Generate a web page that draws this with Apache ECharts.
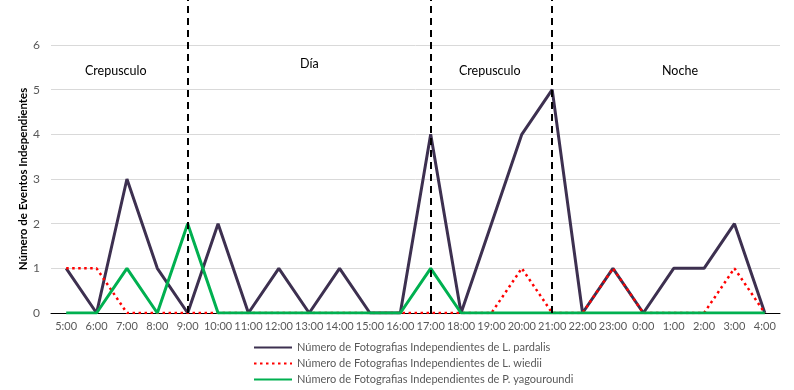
<!DOCTYPE html>
<html><head><meta charset="utf-8">
<script src="https://cdn.jsdelivr.net/npm/echarts@6/dist/echarts.min.js"></script>
<style>html,body{margin:0;padding:0;background:#fff}#c{width:794px;height:390px}</style>
</head><body><div id="c"></div>
<script>
const hours = ['5:00','6:00','7:00','8:00','9:00','10:00','11:00','12:00','13:00','14:00','15:00','16:00','17:00','18:00','19:00','20:00','21:00','22:00','23:00','0:00','1:00','2:00','3:00','4:00'];
const pardalis = [1,0,3,1,0,2,0,1,0,1,0,0,4,0,2,4,5,0,1,0,1,1,2,0];
const wiedii   = [1,1,0,0,0,0,0,0,0,0,0,0,0,0,0,1,0,0,1,0,0,0,1,0];
const yagouaroundi = [0,0,1,0,2,0,0,0,0,0,0,0,1,0,0,0,0,0,0,0,0,0,0,0];
const seriesNames = ['Número de Fotografias Independientes de L. pardalis','Número de Fotografias Independientes de L. wiedii','Número de Fotografias Independientes de P. yagouroundi'];
const dividers = ['9:00','17:00','21:00'];
const periodLabels = ['Crepusculo','Día','Crepusculo','Noche'];
const yTicks = [0,1,2,3,4,5,6];

const FONT = 'Lato';
const chart = echarts.init(document.getElementById('c'), null, {renderer:'canvas'});
chart.setOption({
  animation:false,
  textStyle:{fontFamily:FONT},
  grid:[{left:51, right:14, top:45, bottom:77}, {left:51,right:14,top:0,bottom:77}],
  xAxis:[{
    type:'category', data:hours, gridIndex:0,
    axisLine:{lineStyle:{color:'#000',width:1}},
    axisTick:{show:false},
    axisLabel:{color:'#595959',fontSize:11,margin:8,interval:0,fontFamily:FONT}
  },{
    type:'category', data:hours, gridIndex:1, show:false
  }],
  yAxis:[{
    type:'value', min:0, max:6, interval:1, gridIndex:0,
    name:'Número de Eventos Independientes', nameLocation:'middle', nameGap:22, nameMoveOverlap:false,
    nameTextStyle:{fontWeight:'bold',fontSize:11.5,color:'#000',fontFamily:FONT},
    axisLine:{show:false}, axisTick:{show:false},
    axisLabel:{color:'#595959',fontSize:12,margin:11},
    splitLine:{lineStyle:{color:'#d9d9d9',width:1}}
  },{
    type:'value', min:0, max:1, gridIndex:1, show:false, splitLine:{show:false}
  }],
  legend:{
    orient:'vertical', left:253, top:342, padding:0, itemWidth:38, itemHeight:10, itemGap:5,
    itemStyle:{opacity:0},
    textStyle:{color:'#595959',fontSize:11,fontFamily:FONT},
    data:seriesNames
  },
  series:[
    {name:seriesNames[0], type:'line', data:pardalis, symbol:'none', lineStyle:{color:'#3d3050',width:3}, itemStyle:{color:'#3d3050'}, z:2},
    {name:seriesNames[1], type:'line', data:wiedii, symbol:'none', lineStyle:{color:'#ff0000',width:2.5,type:[2.5,3.5]}, itemStyle:{color:'#ff0000'}, z:3},
    {name:seriesNames[2], type:'line', data:yagouaroundi, symbol:'none', lineStyle:{color:'#00b050',width:3}, itemStyle:{color:'#00b050'}, z:4},
    {type:'line', xAxisIndex:1, yAxisIndex:1, data:[], silent:true,
      markLine:{symbol:'none', silent:true, label:{show:false},
        lineStyle:{color:'#000',width:2,type:[7,5]},
        data:dividers.map(d=>({xAxis:d}))}, z:5}
  ],
  graphic:[
    {type:'text', left:85, top:64, style:{text:periodLabels[0],fontSize:12.5,fill:'#000',fontFamily:FONT}},
    {type:'text', left:300, top:57, style:{text:periodLabels[1],fontSize:12.5,fill:'#000',fontFamily:FONT}},
    {type:'text', left:459, top:64, style:{text:periodLabels[2],fontSize:12.5,fill:'#000',fontFamily:FONT}},
    {type:'text', left:662, top:64, style:{text:periodLabels[3],fontSize:12.5,fill:'#000',fontFamily:FONT}}
  ]
});
</script></body></html>
